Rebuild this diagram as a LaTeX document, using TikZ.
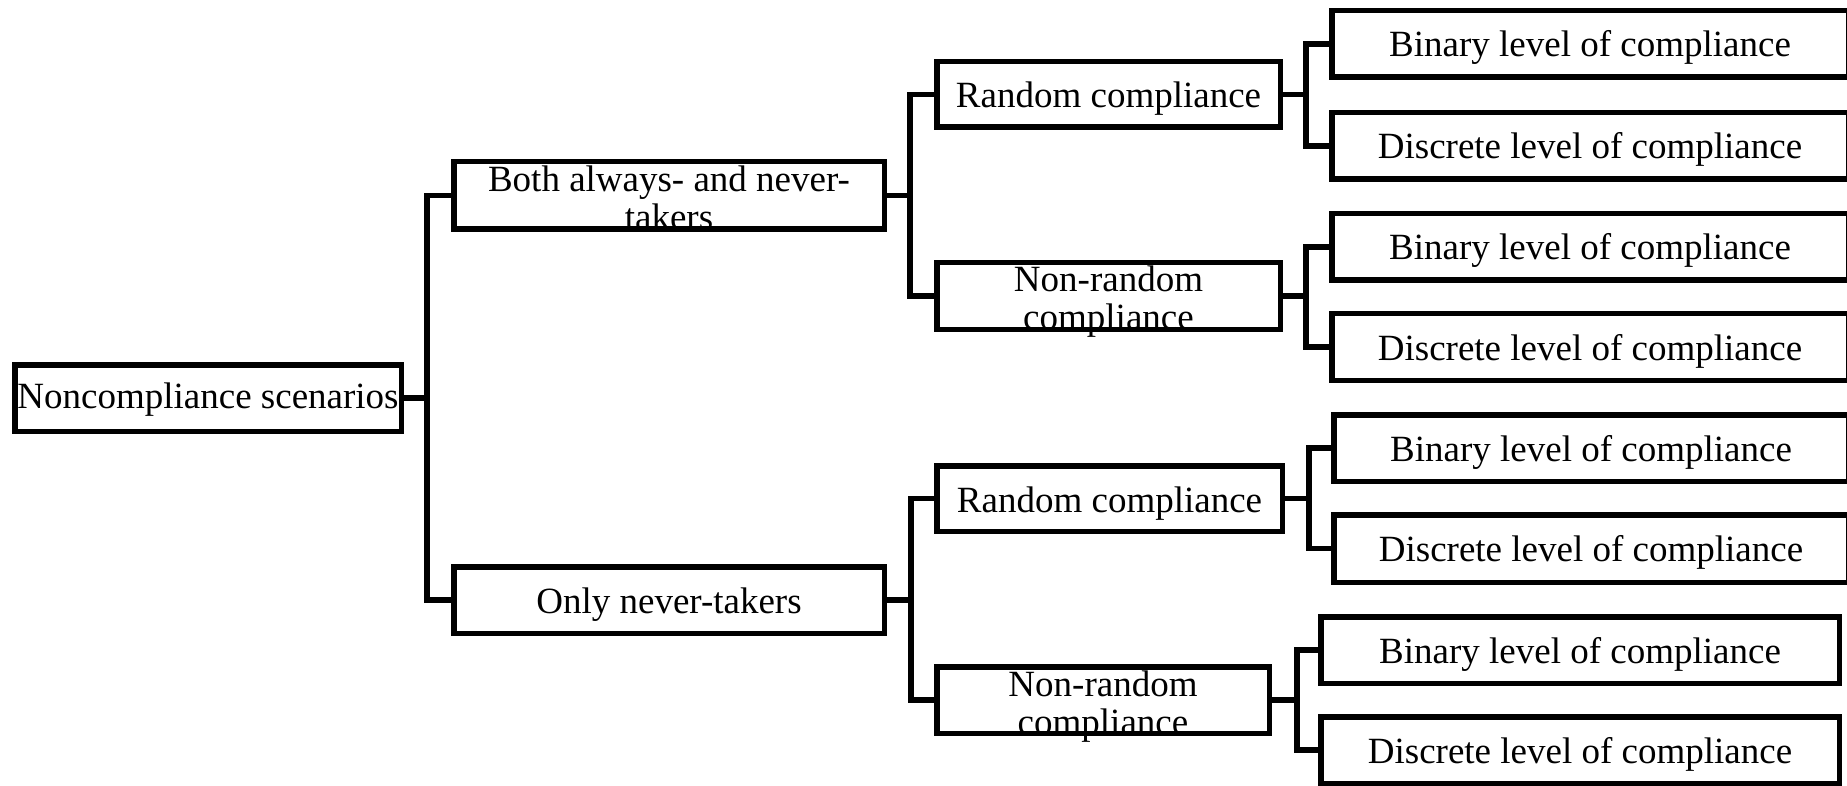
\documentclass[tikz,border=0pt]{standalone}
\usepackage{fontspec}
\setmainfont{Liberation Serif}
\begin{document}
\begin{tikzpicture}[x=1pt,y=-1pt,
  box/.style={draw, line width=5.5pt, rectangle, inner sep=0pt, anchor=center,
    font=\fontsize{37}{38}\selectfont, text depth=0pt, text height=27pt},
  twoline/.style={text height=25pt, text depth=33pt},
  conn/.style={draw, line width=5.5pt}]
\useasboundingbox (0,0) rectangle (1847,786);
% root
\node[box, minimum width=386.5pt, minimum height=66.5pt, text height=20pt] (root) at (208,398) {Noncompliance scenarios};
% level 1
\node[box, twoline, minimum width=430.5pt, minimum height=67.5pt] (both) at (669,195.5)
  {\begin{tabular}[t]{@{}c@{}}Both always- and never-\\takers\end{tabular}};
\node[box, minimum width=430.5pt, minimum height=66.5pt] (only) at (669,600) {Only never-takers};
% level 2
\node[box, minimum width=343.5pt, minimum height=65.5pt] (r1) at (1108.5,94.5) {Random compliance};
\node[box, twoline, minimum width=343.5pt, minimum height=66.5pt] (nr1) at (1108.5,296)
  {\begin{tabular}[t]{@{}c@{}}Non-random\\compliance\end{tabular}};
\node[box, minimum width=345.5pt, minimum height=65.5pt] (r2) at (1109.5,498.5) {Random compliance};
\node[box, twoline, minimum width=332.5pt, minimum height=66.5pt] (nr2) at (1103,700)
  {\begin{tabular}[t]{@{}c@{}}Non-random\\compliance\end{tabular}};
% leaves
\node[box, text height=26pt, minimum width=516.5pt, minimum height=66.5pt] (l1) at (1590,44) {Binary level of compliance};
\node[box, text height=26pt, minimum width=516.5pt, minimum height=66.5pt] (l2) at (1590,146) {Discrete level of compliance};
\node[box, text height=26pt, minimum width=516.5pt, minimum height=66.5pt] (l3) at (1590,247) {Binary level of compliance};
\node[box, text height=26pt, minimum width=516.5pt, minimum height=66.5pt] (l4) at (1590,347) {Discrete level of compliance};
\node[box, text height=26pt, minimum width=514.5pt, minimum height=66.5pt] (l5) at (1591,448) {Binary level of compliance};
\node[box, text height=26pt, minimum width=514.5pt, minimum height=67.5pt] (l6) at (1591,548.5) {Discrete level of compliance};
\node[box, text height=26pt, minimum width=518.5pt, minimum height=66.5pt] (l7) at (1580,650) {Binary level of compliance};
\node[box, text height=26pt, minimum width=518.5pt, minimum height=66.5pt] (l8) at (1580,750) {Discrete level of compliance};
% junctions
\coordinate (j0) at (427,398);
\coordinate (j1) at (910,195.5);
\coordinate (j2) at (911,600);
\coordinate (g1) at (1306,94.5);
\coordinate (g2) at (1306,296);
\coordinate (g3) at (1309,498.5);
\coordinate (g4) at (1297,700);
% connectors
\draw[conn] (root.east) -- (j0);
\draw[conn] (both.west) -| (j0);
\draw[conn] (only.west) -| (j0);
\draw[conn] (both.east) -- (j1);
\draw[conn] (r1.west) -| (j1);
\draw[conn] (nr1.west) -| (j1);
\draw[conn] (only.east) -- (j2);
\draw[conn] (r2.west) -| (j2);
\draw[conn] (nr2.west) -| (j2);
\draw[conn] (r1.east) -- (g1);
\draw[conn] (l1.west) -| (g1);
\draw[conn] (l2.west) -| (g1);
\draw[conn] (nr1.east) -- (g2);
\draw[conn] (l3.west) -| (g2);
\draw[conn] (l4.west) -| (g2);
\draw[conn] (r2.east) -- (g3);
\draw[conn] (l5.west) -| (g3);
\draw[conn] (l6.west) -| (g3);
\draw[conn] (nr2.east) -- (g4);
\draw[conn] (l7.west) -| (g4);
\draw[conn] (l8.west) -| (g4);
\end{tikzpicture}
\end{document}
